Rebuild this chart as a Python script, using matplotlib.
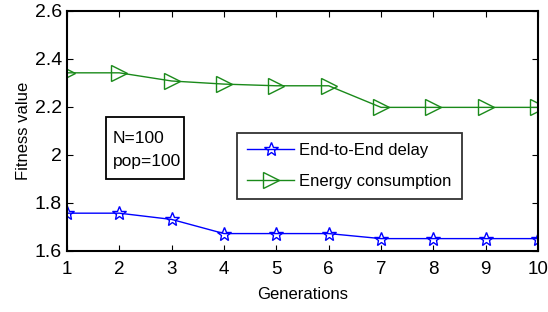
import matplotlib

matplotlib.use("Agg")
import matplotlib.pyplot as plt
from matplotlib.patches import Rectangle

plt.rcParams["font.family"] = ["Liberation Sans", "DejaVu Sans"]

generations = [1, 2, 3, 4, 5, 6, 7, 8, 9, 10]
delay = [1.757, 1.757, 1.731, 1.672, 1.672, 1.672, 1.651, 1.651, 1.651, 1.651]
energy = [2.342, 2.342, 2.308, 2.295, 2.288, 2.288, 2.198, 2.198, 2.198, 2.198]

fig = plt.figure(figsize=(5.48, 3.12), dpi=100)
ax = fig.add_axes([0.122, 0.196, 0.860, 0.769])

ax.plot(generations, delay, color="#0000ff", lw=1.0, marker="*", ms=10,
        mfc="none", mec="#0000ff", mew=1.0, label="End-to-End delay")
ax.plot(generations, energy, color="#1a8a1a", lw=1.0, marker=">", ms=12,
        mfc="none", mec="#1a8a1a", mew=1.0, label="Energy consumption")

ax.set_xlim(1, 10)
ax.set_ylim(1.6, 2.6)
ax.set_xticks(generations)
ax.set_yticks([1.6, 1.8, 2.0, 2.2, 2.4, 2.6])
ax.set_yticklabels(["1.6", "1.8", "2", "2.2", "2.4", "2.6"])
ax.tick_params(direction="in", top=True, right=True, labelsize=14, length=4)
ax.tick_params(axis="x", pad=7, labelsize=13.5)
for s in ax.spines.values():
    s.set_linewidth(1.5)
ax.set_xlabel("Generations", fontsize=12, labelpad=7)
ax.set_ylabel("Fitness value", fontsize=12, labelpad=3)

leg = ax.legend(loc="upper left", bbox_to_anchor=(0.362, 0.492), fontsize=12,
                frameon=True, fancybox=False, borderpad=0.6, handlelength=2.8,
                handletextpad=0.3, labelspacing=0.95, borderaxespad=0)
leg.get_frame().set_edgecolor("black")
leg.get_frame().set_linewidth(1.3)

# annotation box with the run parameters
ax.add_patch(Rectangle((0.083, 0.30), 0.165, 0.258, transform=ax.transAxes,
                       fc="white", ec="black", lw=1.3, zorder=3))
ax.text(0.097, 0.467, "N=100", transform=ax.transAxes, fontsize=12.5,
        va="center", ha="left", zorder=4)
ax.text(0.097, 0.371, "pop=100", transform=ax.transAxes, fontsize=12.5,
        va="center", ha="left", zorder=4)

fig.savefig("out.png", dpi=100)
